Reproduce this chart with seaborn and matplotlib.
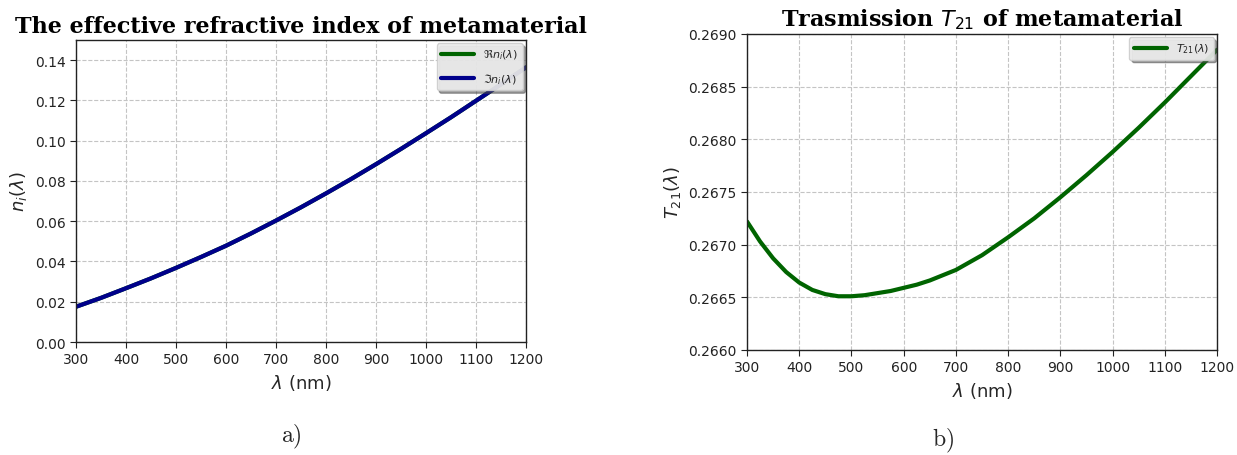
import numpy as np
import pandas as pd
import seaborn as sns
import matplotlib
matplotlib.use("Agg")
import matplotlib.pyplot as plt

# wavelength grid (nm) for the index curves, read every 50 nm
wl_n = [300, 350, 400, 450, 500, 550, 600, 650, 700, 750,
        800, 850, 900, 950, 1000, 1050, 1100, 1150, 1200]

# imaginary part of effective index (blue curve)
im_n = [0.0175, 0.0219, 0.0267, 0.0316, 0.0368, 0.0422, 0.0478, 0.0539, 0.0603, 0.0669,
        0.0738, 0.0809, 0.0883, 0.0959, 0.1037, 0.1116, 0.1198, 0.1280, 0.1364]
# real part is hidden under the blue line in the picture
re_n = list(im_n)

# transmission T21 (green curve), denser near the minimum
wl_t = [300, 325, 350, 375, 400, 425, 450, 475, 500, 525, 550, 575, 600, 625, 650, 675, 700,
        750, 800, 850, 900, 950, 1000, 1050, 1100, 1150, 1200]
t21 = [0.26722, 0.26703, 0.26687, 0.26674, 0.26664, 0.26657, 0.26653, 0.26651, 0.26651,
       0.26652, 0.26654, 0.26656, 0.26659, 0.26662, 0.26666, 0.26671, 0.26676,
       0.26690, 0.26707, 0.26725, 0.26745, 0.26766, 0.26788, 0.26811, 0.26835, 0.26860, 0.26885]

x_ticks = [300, 400, 500, 600, 700, 800, 900, 1000, 1100, 1200]

sns.set_theme(style="ticks")
plt.rcParams['font.family'] = ['DejaVu Sans']
plt.rcParams['mathtext.fontset'] = 'dejavusans'

df_n = pd.DataFrame({"wl": wl_n, "re": re_n, "im": im_n})
df_t = pd.DataFrame({"wl": wl_t, "t21": t21})

fig = plt.figure(figsize=(12.37, 4.56), dpi=100)
ax1 = fig.add_axes([0.0614, 0.2478, 0.3638, 0.6623])
ax2 = fig.add_axes([0.6039, 0.2303, 0.3800, 0.6930])

# --- left: effective refractive index ---
sns.lineplot(data=df_n, x="wl", y="re", ax=ax1, color="#006400", lw=3, label=r"$\Re n_i(\lambda)$")
sns.lineplot(data=df_n, x="wl", y="im", ax=ax1, color="#00008B", lw=3, label=r"$\Im n_i(\lambda)$")
ax1.set_xlim(300, 1200)
ax1.set_ylim(0, 0.15)
ax1.set_xticks(x_ticks)
ax1.set_yticks(np.round(np.arange(0, 0.141, 0.02), 2))
ax1.yaxis.set_major_formatter(matplotlib.ticker.FormatStrFormatter("%.2f"))
ax1.set_xlabel(r"$\lambda$ (nm)", fontsize=13)
ax1.set_ylabel(r"$n_i(\lambda)$", fontsize=13)
ax1.set_title("The effective refractive index of metamaterial", fontsize=16,
              fontweight="bold", family="DejaVu Serif", color="black", pad=6)

# --- right: transmission ---
sns.lineplot(data=df_t, x="wl", y="t21", ax=ax2, color="#006400", lw=3, label=r"$T_{21}(\lambda)$")
ax2.set_xlim(300, 1200)
ax2.set_ylim(0.2660, 0.2690)
ax2.set_xticks(x_ticks)
ax2.set_yticks(np.round(np.arange(0.2660, 0.26901, 0.0005), 4))
ax2.yaxis.set_major_formatter(matplotlib.ticker.FormatStrFormatter("%.4f"))
ax2.set_xlabel(r"$\lambda$ (nm)", fontsize=13)
ax2.set_ylabel(r"$T_{21}(\lambda)$", fontsize=13)
ax2.set_title(r"Trasmission $T_{21}$ of metamaterial", fontsize=16,
              fontweight="bold", family="DejaVu Serif", color="black", pad=6)

for ax in (ax1, ax2):
    ax.grid(True, ls="--", color="#c4c4c4", lw=0.8)
    ax.tick_params(labelsize=10, colors="#222222", length=4, width=0.8)
    for s in ax.spines.values():
        s.set_color("#222222")
        s.set_linewidth(1.0)
    leg = ax.legend(loc="upper right", fontsize=8, shadow=True, fancybox=True,
                    framealpha=0.9, handlelength=3.0, labelspacing=0.9,
                    borderaxespad=0.3)
    leg.get_frame().set_facecolor("#eeeeee")
    leg.get_frame().set_edgecolor("#cccccc")

fig.text(0.2355, 0.03, r"$\mathrm{a)}$", fontsize=17, ha="center", math_fontfamily="cm")
fig.text(0.7625, 0.02, r"$\mathrm{b)}$", fontsize=17, ha="center", math_fontfamily="cm")

fig.savefig("out.png", dpi=100)
